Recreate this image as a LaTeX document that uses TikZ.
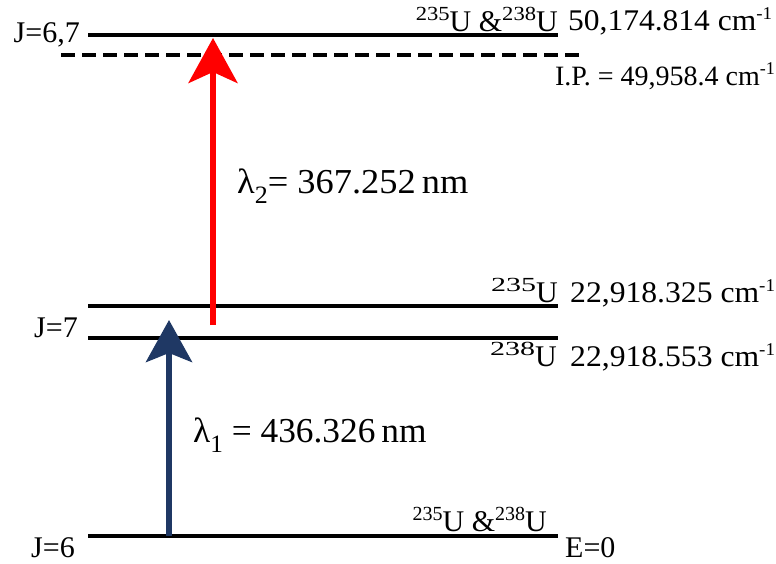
\documentclass[tikz,border=0pt]{standalone}
\usepackage{fontspec}
\usepackage{graphicx}
\setmainfont{Liberation Serif}
\usetikzlibrary{arrows.meta}
\definecolor{navyarrow}{RGB}{31,56,100}
\definecolor{redarrow}{RGB}{255,0,0}
\newcommand{\sups}[1]{\raisebox{0.36em}{\fontsize{18}{18}\selectfont #1}}
\newcommand{\isosup}[2]{\raisebox{0.36em}{\scalebox{#1}[1]{\fontsize{20}{20}\selectfont #2}}}
\newcommand{\subs}[1]{\raisebox{-0.3em}{\fontsize{25}{25}\selectfont #1}}
\newcommand{\wider}[2]{\scalebox{#1}[1]{#2}}
\begin{document}
\begin{tikzpicture}[x=1pt,y=-1pt,
  level/.style={line width=4.5pt},
  ipline/.style={line width=4pt, dash pattern=on 14pt off 7pt},
  lab/.style={inner sep=0pt, font=\fontsize{30}{32}\selectfont},
  iplab/.style={inner sep=0pt, font=\fontsize{28}{30}\selectfont},
  jlab/.style={inner sep=0pt, font=\fontsize{30}{32}\selectfont},
  wl/.style={inner sep=0pt, font=\fontsize{35}{38}\selectfont},
  bluearr/.style={line width=6pt, navyarrow, -{Stealth[length=42pt,width=46pt,inset=9pt]}},
  redarr/.style={line width=5.5pt, redarrow, -{Stealth[length=45pt,width=49pt,inset=11pt]}}
]
\useasboundingbox (0,0) rectangle (776,563);
% levels
\coordinate (t0) at (88,35);  \coordinate (t1) at (558,35);
\coordinate (d0) at (61,55);  \coordinate (d1) at (585,55);
\coordinate (u0) at (88,306); \coordinate (u1) at (558,306);
\coordinate (v0) at (88,338); \coordinate (v1) at (558,338);
\coordinate (g0) at (88,536); \coordinate (g1) at (558,536);
\draw[level] (t0) -- (t1);
\draw[ipline] (d0) -- (d1);
\draw[level] (u0) -- (u1);
\draw[level] (v0) -- (v1);
\draw[level] (g0) -- (g1);
% arrows
\coordinate (b0) at (169,536); \coordinate (b1) at (169,320);
\coordinate (r0) at (213,325); \coordinate (r1) at (213,38);
\draw[bluearr] (b0) -- (b1);
\draw[redarr] (r0) -- (r1);
% labels
\node[jlab, anchor=base east] (j67) at (80,42) {J=6,7};
\node[jlab, anchor=base east] (j7) at (78,337) {J=7};
\node[jlab, anchor=base east] (j6) at (75,557) {J=6};
\node[lab, anchor=base east] (iso1) at (558,31) {\isosup{1.13}{235}U \&\isosup{1.13}{238}U};
\node[lab, anchor=base west] (e1) at (568,30) {\wider{1.05}{50,174.814 cm\sups{-1}}};
\node[iplab, anchor=base east] (ip) at (775,85) {I.P. = 49,958.4 cm\sups{-1}};
\node[lab, anchor=base east] (iso2) at (558,302) {\isosup{1.5}{235}U};
\node[lab, anchor=base west] (e2) at (570,302) {\wider{1.055}{22,918.325 cm\sups{-1}}};
\node[lab, anchor=base east] (iso3) at (557,366) {\isosup{1.5}{238}U};
\node[lab, anchor=base west] (e3) at (570,366) {\wider{1.055}{22,918.553 cm\sups{-1}}};
\node[lab, anchor=base east] (iso4) at (547,531) {\isosup{1}{235}U \&\isosup{1}{238}U};
\node[lab, anchor=base west] (e0) at (565,557) {E=0};
\node[wl, anchor=base west] (w2) at (237,193) {\wider{1.04}{λ\subs{2}= 367.252\,nm}};
\node[wl, anchor=base west] (w1) at (193,442) {\wider{1.01}{λ\subs{1} = 436.326\,nm}};
\end{tikzpicture}
\end{document}
